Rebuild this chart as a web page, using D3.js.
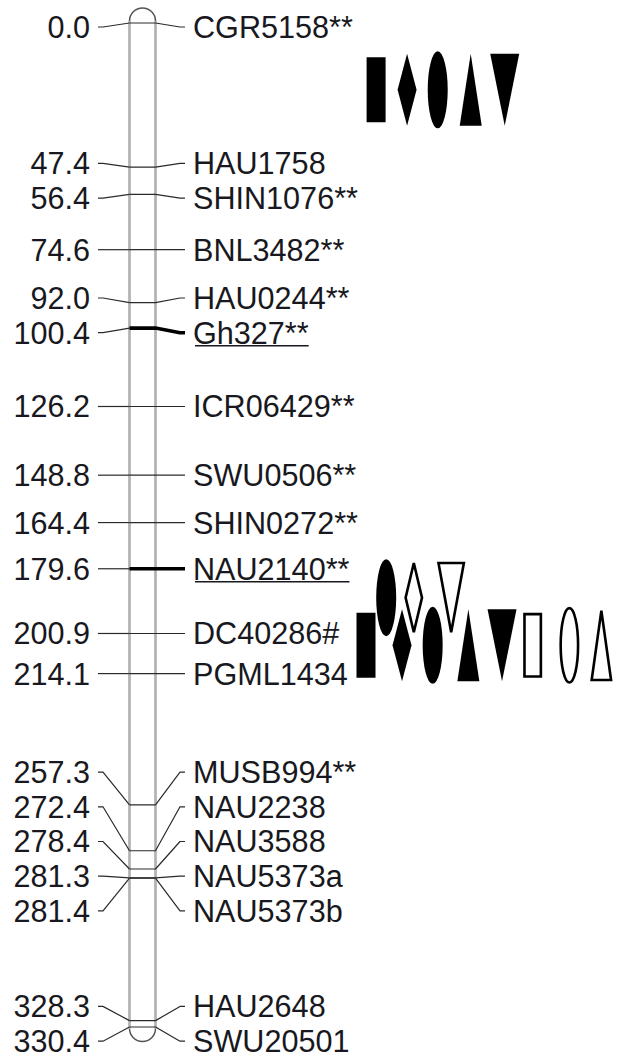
<!DOCTYPE html>
<html>
<head>
<meta charset="utf-8">
<script src="https://cdn.jsdelivr.net/npm/d3@7"></script>
<style>
  body { margin: 0; background: #fff; }
  svg text { font-family: "Liberation Sans", Arial, sans-serif; font-size: 30.6px; fill: #181820; }
</style>
</head>
<body>
<div id="chart"></div>
<script>
/* Linkage map data: marker positions (cM) and names. */
const positions = [0.0, 47.4, 56.4, 74.6, 92.0, 100.4, 126.2, 148.8, 164.4, 179.6,
  200.9, 214.1, 257.3, 272.4, 278.4, 281.3, 281.4, 328.3, 330.4];
const markers = ['CGR5158**', 'HAU1758', 'SHIN1076**', 'BNL3482**', 'HAU0244**', 'Gh327**',
  'ICR06429**', 'SWU0506**', 'SHIN0272**', 'NAU2140**', 'DC40286#', 'PGML1434',
  'MUSB994**', 'NAU2238', 'NAU3588', 'NAU5373a', 'NAU5373b', 'HAU2648', 'SWU20501'];
const highlighted = ['Gh327**', 'NAU2140**'];

/* QTL symbols: shape, filled or open, centre (cM) and track slot. */
const qtlShapes = ['rect', 'diamond', 'ellipse', 'triUp', 'triDown',
  'rect', 'ellipse', 'diamond', 'diamond', 'ellipse', 'triDown', 'triUp', 'triDown', 'rect', 'ellipse', 'triUp'];
const qtlFilled = [true, true, true, true, true,
  true, true, true, false, true, false, true, true, false, false, false];
const qtlCenters = [22.0, 22.0, 22.0, 22.0, 22.0,
  204.8, 189.1, 204.8, 189.1, 204.8, 189.1, 204.8, 204.8, 204.8, 204.8, 204.8];
const qtlSlots = [0.3, 1.22, 2.13, 3.11, 4.12,
  0, 0.6, 1.07, 1.42, 1.98, 2.53, 3.04, 4.04, 4.95, 6.04, 6.99];

const width = 625;
const height = 1059;
const chrom = { left: 129.5, right: 155.5 };
const labelGap = 34.7;   // minimum vertical spacing between labels
const labelTop = 27;

const svg = d3.select('#chart').append('svg')
  .attr('width', width)
  .attr('height', height);

const y = d3.scaleLinear().domain([0, 330.4]).range([23, 1027]);
const x = d3.scaleLinear().domain([0, 7]).range([366, 601.7]);

/* Spread labels so they don't overlap; each cluster is centred on the
   midpoint of its markers' true positions. */
function spreadLabels(ys) {
  const groups = [];
  const startOf = (g) => Math.max(labelTop, (g.lo + g.hi) / 2 - (g.idx.length - 1) * labelGap / 2);
  ys.forEach((v, i) => {
    groups.push({ lo: v, hi: v, idx: [i] });
    let merged = true;
    while (merged && groups.length > 1) {
      merged = false;
      const g = groups[groups.length - 1];
      const p = groups[groups.length - 2];
      const pEnd = startOf(p) + (p.idx.length - 1) * labelGap;
      if (startOf(g) - pEnd < labelGap) {
        groups.splice(groups.length - 2, 2,
          { lo: p.lo, hi: g.hi, idx: p.idx.concat(g.idx) });
        merged = true;
      }
    }
  });
  const out = [];
  groups.forEach((g) => {
    const start = startOf(g);
    g.idx.forEach((i, k) => { out[i] = start + k * labelGap; });
  });
  return out;
}

const natural = positions.map((d) => y(d));
const labelY = spreadLabels(natural);

/* Chromosome body */
const chromTop = y(0) - 2;
const chromBot = y(330.4) + 1.5;
const rr = (chrom.right - chrom.left) / 2;

svg.append('path')
  .attr('d', `M${chrom.left},${chromTop} A${rr},${rr} 0 0 1 ${chrom.right},${chromTop}`)
  .attr('fill', 'none').attr('stroke', '#555').attr('stroke-width', 1.5);
svg.append('path')
  .attr('d', `M${chrom.left},${chromBot} A${rr},${rr} 0 0 0 ${chrom.right},${chromBot}`)
  .attr('fill', 'none').attr('stroke', '#555').attr('stroke-width', 1.5);
[chrom.left, chrom.right].forEach((xx) => {
  svg.append('line')
    .attr('x1', xx).attr('x2', xx)
    .attr('y1', chromTop).attr('y2', chromBot)
    .attr('stroke', '#b2b2b2').attr('stroke-width', 2.7);
});

/* Markers: rungs, connectors and labels */
const m = svg.selectAll('.marker')
  .data(positions.map((p, i) => ({ p, name: markers[i], ny: natural[i], ly: labelY[i] })))
  .enter().append('g')
  .attr('class', 'marker');

m.append('path')
  .attr('d', (d) => `M98,${d.ly} L103,${d.ly} L${chrom.left},${d.ny}`)
  .attr('fill', 'none').attr('stroke', '#2a2a2a').attr('stroke-width', 1.2);

m.append('path')
  .attr('d', (d) => `M${chrom.left},${d.ny} L${chrom.right},${d.ny} L180,${d.ly} L185,${d.ly}`)
  .attr('fill', 'none')
  .attr('stroke', (d) => highlighted.includes(d.name) ? '#000' : '#2a2a2a')
  .attr('stroke-width', (d) => highlighted.includes(d.name) ? 3.6 : 1.2)
  .attr('stroke-linejoin', 'round');

m.append('text')
  .attr('x', 90)
  .attr('y', (d) => d.ly + 11)
  .attr('text-anchor', 'end')
  .text((d) => d.p.toFixed(1));

const names = m.append('text')
  .attr('x', 193)
  .attr('y', (d) => d.ly + 11)
  .text((d) => d.name);

names.each(function(d) {
  if (!highlighted.includes(d.name)) return;
  const w = this.getComputedTextLength();
  d3.select(this.parentNode).append('line')
    .attr('x1', 195).attr('x2', 193 + w)
    .attr('y1', d.ly + 13).attr('y2', d.ly + 13)
    .attr('stroke', '#181820').attr('stroke-width', 1.6);
});

/* QTL symbols */
const sizes = {
  rect: [19, 65], diamond: [19, 72], ellipse: [20, 77], triUp: [22, 72], triDown: [29, 72]
};

function shapePath(type, px, py, w, h) {
  const hw = w / 2, hh = h / 2;
  if (type === 'rect') {
    return `M${px - hw},${py - hh}H${px + hw}V${py + hh}H${px - hw}Z`;
  }
  if (type === 'diamond') {
    return `M${px},${py - hh}L${px + hw},${py}L${px},${py + hh}L${px - hw},${py}Z`;
  }
  if (type === 'triUp') {
    return `M${px},${py - hh}L${px + hw},${py + hh}L${px - hw},${py + hh}Z`;
  }
  return `M${px - hw},${py - hh}L${px + hw},${py - hh}L${px},${py + hh}Z`;
}

const qtl = qtlShapes.map((s, i) => ({
  shape: s, filled: qtlFilled[i], cM: qtlCenters[i], slot: qtlSlots[i]
}));

qtl.forEach((d) => {
  let [w, h] = sizes[d.shape];
  const sw = 2.6;
  if (!d.filled) { w -= sw; h -= sw; if (d.shape === 'triDown') w -= 1; }
  const px = x(d.slot);
  const py = y(d.cM);
  let node;
  if (d.shape === 'ellipse') {
    node = svg.append('ellipse')
      .attr('cx', px).attr('cy', py)
      .attr('rx', w / 2).attr('ry', h / 2);
  } else {
    node = svg.append('path').attr('d', shapePath(d.shape, px, py, w, h));
  }
  node
    .attr('fill', d.filled ? '#000' : '#fff')
    .attr('stroke', d.filled ? 'none' : '#000')
    .attr('stroke-width', sw);
});
</script>
</body>
</html>
